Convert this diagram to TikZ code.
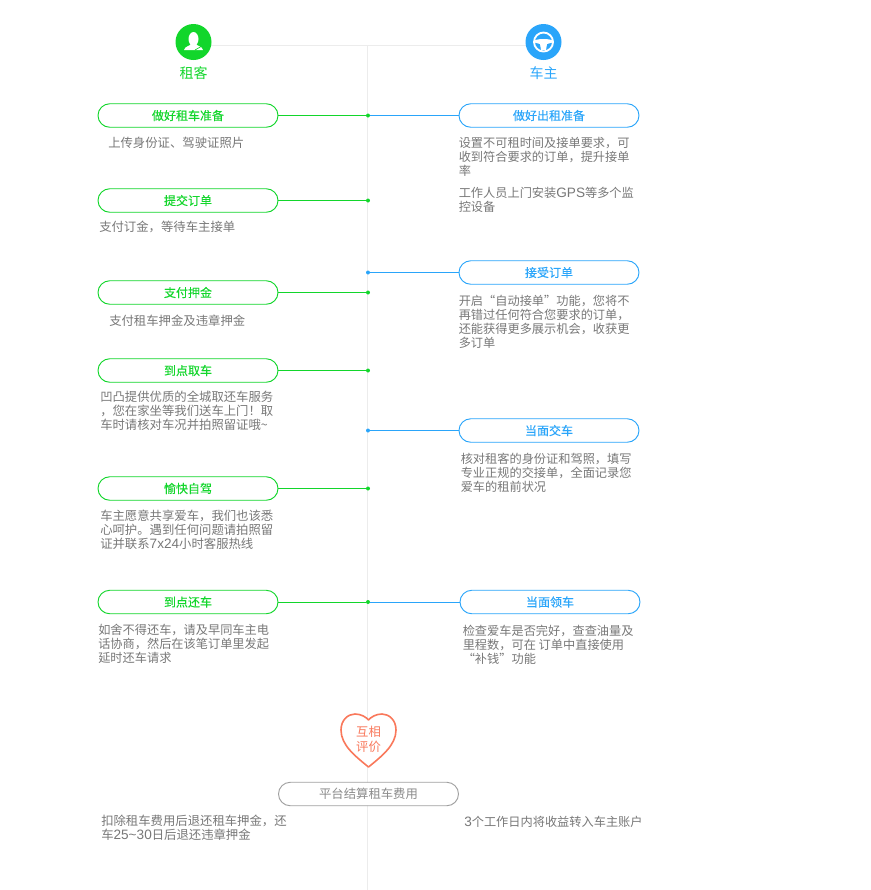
\documentclass[tikz,border=0pt]{standalone}
\usepackage{fontspec}
\setmainfont{Noto Sans CJK SC}
\newfontfamily\lat{Liberation Sans}
\newfontfamily\medio[FakeBold=0.15]{Noto Sans CJK SC}
\newcommand{\num}[1]{{\lat\fontsize{10.2pt}{10pt}\selectfont #1}}
\definecolor{zuke}{HTML}{12D62B}
\definecolor{chezhu}{HTML}{2AA5FA}
\definecolor{pingjia}{HTML}{F9785B}
\definecolor{wenzi}{HTML}{777777}
\definecolor{eixo}{HTML}{ECECEC}
\definecolor{jiesuan}{HTML}{A0A0A0}
\tikzset{
  pill/.style={draw=#1,text=#1,fill=white,rounded corners=8.8pt,line width=0.7pt,minimum width=135pt,minimum height=17.6pt,inner sep=0pt,font=\medio\fontsize{9pt}{9pt}\selectfont},
  desc/.style={text=wenzi,anchor=north west,align=left,inner sep=0pt,font=\fontsize{9.27pt}{10.65pt}\selectfont},
  descd/.style={desc,font=\fontsize{9.15pt}{10.65pt}\selectfont},
  dot/.style={circle,fill=#1,minimum size=3pt,inner sep=0pt},
  liga/.style={draw=#1,line width=0.75pt},
  rotulo/.style={text=#1,font=\fontsize{10.5pt}{10.5pt}\selectfont,inner sep=0pt},
}
\begin{document}
\begin{tikzpicture}[x=0.75pt,y=-0.75pt]
  \useasboundingbox (0,0) rectangle (871,890);
  %eixos
  \coordinate (topo) at (367.5,45.5);
  \coordinate (base) at (367.5,890);
  \node[circle,minimum size=27pt,inner sep=0pt] (iconz) at (193.5,42) {};
  \node[circle,minimum size=27pt,inner sep=0pt] (iconc) at (543.5,42) {};
  \draw[eixo,line width=0.75pt] (topo) -- (base);
  \draw[eixo,line width=0.75pt] (iconz |- topo) -- (iconc |- topo);
  \fill[zuke] (iconz) circle (18);
  \fill[chezhu] (iconc) circle (18);
  %icones
  \fill[white] (193.5,39) ellipse (5 and 7);
  \fill[white] (184,50) .. controls (185,46) and (190,46) .. (191,44) -- (196,44) .. controls (197,46) and (202,46) .. (203,50) -- cycle;
  \draw[zuke,line width=0.5pt] (195,50) -- (202,46);
  \draw[white,line width=1.4pt] (iconc) circle (9.5);
  \fill[white] (534.5,40.5) .. controls (538,38.5) and (549,38.5) .. (552.5,40.5) -- (552.5,42.5) -- (547,44) -- (546,50) -- (541,50) -- (540,44) -- (534.5,42.5) -- cycle;
  \node[rotulo=zuke] (tz) at (193.5,73) {租客};
  \node[rotulo=chezhu] (tc) at (543.5,73) {车主};
  %pontos
  \node[dot=zuke] (d1) at (368,115.5) {};
  \node[dot=zuke] (d2) at (368,200.5) {};
  \node[dot=chezhu] (d3) at (368,272.5) {};
  \node[dot=zuke] (d4) at (368,292.5) {};
  \node[dot=zuke] (d5) at (368,370.5) {};
  \node[dot=chezhu] (d6) at (368,430.5) {};
  \node[dot=zuke] (d7) at (368,488.5) {};
  \node[dot=zuke] (d8) at (368,602) {};
  %lado do locatario
  \node[pill=zuke] (z1) at (188,115.5) {做好租车准备};
  \node[pill=zuke] (z2) at (188,200.5) {提交订单};
  \node[pill=zuke] (z3) at (188,292.5) {支付押金};
  \node[pill=zuke] (z4) at (188,370.5) {到点取车};
  \node[pill=zuke] (z5) at (188,488.5) {愉快自驾};
  \node[pill=zuke] (z6) at (188,602) {到点还车};
  \draw[liga=zuke] (z1) -- (d1);
  \draw[liga=zuke] (z2) -- (d2);
  \draw[liga=zuke] (z3) -- (d4);
  \draw[liga=zuke] (z4) -- (d5);
  \draw[liga=zuke] (z5) -- (d7);
  \draw[liga=zuke] (z6) -- (d8);
  %lado do dono
  \node[pill=chezhu] (c1) at (549,115.5) {做好出租准备};
  \node[pill=chezhu] (c2) at (549,272.5) {接受订单};
  \node[pill=chezhu] (c3) at (549,430.5) {当面交车};
  \node[pill=chezhu] (c4) at (550,602) {当面领车};
  \draw[liga=chezhu] (c1) -- (d1);
  \draw[liga=chezhu] (c2) -- (d3);
  \draw[liga=chezhu] (c3) -- (d6);
  \draw[liga=chezhu] (c4) -- (d8);
  %textos
  \node[desc] (tz1) at (108,136.5) {上传身份证、驾驶证照片};
  \node[desc] (tz2) at (99,220.5) {支付订金，等待车主接单};
  \node[desc] (tz3) at (109,314.5) {支付租车押金及违章押金};
  \node[desc] (tz4) at (100,390.5) {凹凸提供优质的全城取还车服务\\，您在家坐等我们送车上门！取\\车时请核对车况并拍照留证哦\textasciitilde};
  \node[desc] (tz5) at (100,509.5) {车主愿意共享爱车，我们也该悉\\心呵护。遇到任何问题请拍照留\\证并联系\num{7x24}小时客服热线};
  \node[descd] (tz6) at (98,623.5) {如舍不得还车，请及早同车主电\\话协商，然后在该笔订单里发起\\延时还车请求};
  \node[descd] (tc1) at (458.5,136.5) {设置不可租时间及接单要求，可\\收到符合要求的订单，提升接单\\率};
  \node[descd] (tc2) at (458.5,186.5) {工作人员上门安装\num{GPS}等多个监\\控设备};
  \node[descd] (tc3) at (458.5,294.5) {开启“自动接单”功能，您将不\\再错过任何符合您要求的订单，\\还能获得更多展示机会，收获更\\多订单};
  \node[descd] (tc4) at (460.5,452.5) {核对租客的身份证和驾照，填写\\专业正规的交接单，全面记录您\\爱车的租前状况};
  \node[descd] (tc5) at (462.5,624.5) {检查爱车是否完好，查查油量及\\里程数，可在 订单中直接使用\\“补钱”功能};
  %coracao
  \draw[pingjia,fill=white,line width=1.2pt,line join=round] (368.5,767)
    .. controls (355,756) and (341,745) .. (341,730)
    .. controls (341,720) and (348,714) .. (355,714)
    .. controls (361,714) and (366,717) .. (368.5,720)
    .. controls (371,717) and (376,714) .. (382,714)
    .. controls (389,714) and (396,720) .. (396,730)
    .. controls (396,745) and (382,756) .. (368.5,767) -- cycle;
  \node[text=pingjia,align=center,inner sep=0pt,font=\fontsize{9.27pt}{11pt}\selectfont] (cor) at (368.5,739.5) {互相\\评价};
  %acerto final
  \node[pill=jiesuan,text=wenzi!85,fill=white,font=\fontsize{9.27pt}{9pt}\selectfont] (fim) at (368.5,794) {平台结算租车费用};
  \node[desc] (tf1) at (101,814.5) {扣除租车费用后退还租车押金，还\\车\num{25\textasciitilde30}日后退还违章押金};
  \node[descd] (tf2) at (464,815.5) {\num{3}个工作日内将收益转入车主账户};
\end{tikzpicture}
\end{document}
